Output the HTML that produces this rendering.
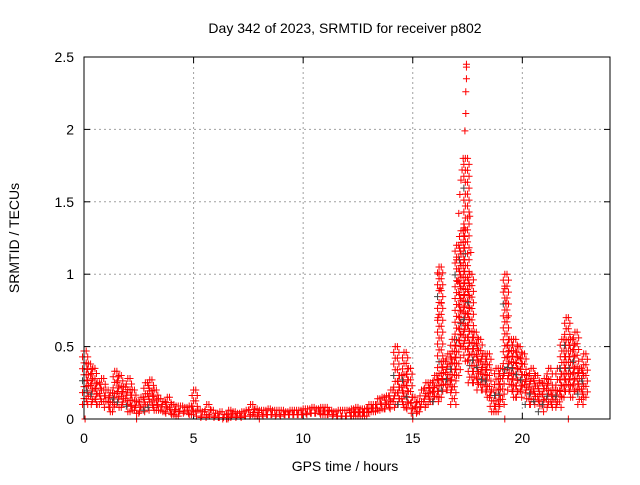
<!DOCTYPE html>
<html><head><meta charset="utf-8"><style>
body{margin:0;background:#fff}
svg text{font-family:"Liberation Sans",sans-serif;font-size:14px;fill:#000}
</style></head><body>
<svg id="chart" width="640" height="480" viewBox="0 0 640 480" xmlns="http://www.w3.org/2000/svg">
<rect width="640" height="480" fill="#fff"/>
<text x="345" y="33" text-anchor="middle">Day 342 of 2023, SRMTID for receiver p802</text>
<text transform="translate(19,238) rotate(-90)" text-anchor="middle">SRMTID / TECUs</text>
<text x="345" y="471" text-anchor="middle">GPS time / hours</text>
<g id="grid"></g>
<g id="axes"></g>
<g id="marks"></g>
<rect x="84" y="57" width="526" height="362" fill="none" stroke="#000" stroke-width="1"/>
</svg>
<script>
const xTicks=[0,5,10,15,20];
const yTicks=[0,0.5,1,1.5,2,2.5];
const yTickLabels=["0","0.5","1","1.5","2","2.5"];
const times=[0,0.2,0.4,0.6,0.8,1.0,1.2,1.4,1.6,1.8,2.0,2.2,2.4,2.6,2.8,3.0,3.2,3.4,3.6,3.8,4.0,4.2,4.4,4.6,4.8,5.0,5.2,5.4,5.6,5.8,6.0,6.2,6.4,6.6,6.8,7.0,7.2,7.4,7.6,7.8,8.0,8.2,8.4,8.6,8.8,9.0,9.2,9.4,9.6,9.8,10.0,10.2,10.4,10.6,10.8,11.0,11.2,11.4,11.6,11.8,12.0,12.2,12.4,12.6,12.8,13.0,13.2,13.4,13.6,13.8,14.0,14.2,14.4,14.6,14.8,15.0,15.2,15.4,15.6,15.8,16.0,16.2,16.4,16.6,16.8,17.0,17.2,17.4,17.6,17.8,18.0,18.2,18.4,18.6,18.8,19.0,19.2,19.4,19.6,19.8,20.0,20.2,20.4,20.6,20.8,21.0,21.2,21.4,21.6,21.8,22.0,22.2,22.4,22.6,22.8];
const hiValues=[0.47,0.38,0.35,0.25,0.28,0.2,0.18,0.33,0.3,0.22,0.28,0.2,0.12,0.15,0.25,0.27,0.2,0.14,0.12,0.15,0.1,0.09,0.09,0.08,0.09,0.2,0.06,0.05,0.1,0.06,0.04,0.05,0.03,0.06,0.05,0.04,0.05,0.06,0.1,0.07,0.06,0.06,0.07,0.06,0.06,0.06,0.05,0.06,0.06,0.06,0.07,0.07,0.08,0.07,0.08,0.08,0.06,0.05,0.06,0.06,0.06,0.07,0.08,0.07,0.07,0.1,0.1,0.14,0.15,0.16,0.2,0.5,0.3,0.46,0.35,0.15,0.12,0.2,0.25,0.25,0.3,1.05,0.4,0.45,0.55,1.2,1.3,1.8,1.0,0.6,0.55,0.45,0.45,0.2,0.35,0.35,1.0,0.55,0.55,0.5,0.45,0.3,0.35,0.3,0.25,0.28,0.35,0.2,0.35,0.55,0.7,0.55,0.6,0.35,0.45];
const loValues=[0.1,0.12,0.1,0.1,0.12,0.08,0.05,0.1,0.08,0.1,0.05,0.06,0.04,0.05,0.06,0.08,0.06,0.06,0.05,0.04,0.03,0.02,0.05,0.04,0.03,0.05,0.02,0.01,0.03,0.02,0.01,0.01,0.0,0.01,0.02,0.01,0.02,0.02,0.03,0.02,0.02,0.03,0.03,0.03,0.02,0.03,0.03,0.03,0.03,0.03,0.03,0.04,0.04,0.04,0.03,0.03,0.03,0.02,0.02,0.02,0.02,0.02,0.02,0.02,0.02,0.05,0.05,0.06,0.07,0.07,0.08,0.1,0.1,0.08,0.07,0.04,0.05,0.08,0.1,0.12,0.12,0.15,0.2,0.2,0.1,0.3,0.5,0.4,0.25,0.25,0.2,0.2,0.15,0.05,0.05,0.1,0.3,0.2,0.15,0.15,0.2,0.1,0.1,0.12,0.05,0.1,0.08,0.1,0.08,0.15,0.2,0.15,0.2,0.1,0.15];
const spikeTimes=[17.45,17.45,17.45,17.42,17.42,17.38,17.3,17.25,17.2,17.15,17.1,17.35,16.2,16.25,16.3,16.15,17.0,17.05,17.6,17.65,19.2,19.25,19.3,0.05,2.4,6.5,8.0,15.0,19.2,22.1];
const spikeValues=[2.45,2.43,2.35,2.26,2.11,1.99,1.8,1.72,1.65,1.55,1.42,1.32,1.0,0.9,0.8,0.7,1.1,0.95,1.4,1.15,0.9,0.8,0.7,0.0,0.0,0.0,0.0,0.0,0.0,0.0];

const L=84,R=610,T=57,B=419,XMAX=24,YMAX=2.5;
const xs=v=>L+v/XMAX*(R-L);
const ys=v=>B-v/YMAX*(B-T);
const NS="http://www.w3.org/2000/svg";
const grid=document.getElementById('grid'),axes=document.getElementById('axes'),marks=document.getElementById('marks');
function mk(tag,attrs,parent){const e=document.createElementNS(NS,tag);for(const k in attrs)e.setAttribute(k,attrs[k]);parent.appendChild(e);return e;}
xTicks.forEach(t=>{
  const x=xs(t);
  if(t>0){const g=mk('line',{x1:x,x2:x,y1:T,y2:B,stroke:'#a0a0a0','stroke-dasharray':'2,3'},grid);
  
  }
  mk('line',{x1:x,x2:x,y1:B,y2:B-6,stroke:'#000'},axes);
  mk('line',{x1:x,x2:x,y1:T,y2:T+6,stroke:'#000'},axes);
  const tx=mk('text',{x:x,y:B+24,'text-anchor':'middle'},axes);tx.textContent=t;
  
  
});
yTicks.forEach((t,i)=>{
  const y=ys(t);
  if(t>0&&t<YMAX){const g=mk('line',{x1:L,x2:R,y1:y,y2:y,stroke:'#a0a0a0','stroke-dasharray':'2,3'},grid);
  
  }
  mk('line',{x1:L,x2:L+6,y1:y,y2:y,stroke:'#000'},axes);
  mk('line',{x1:R,x2:R-6,y1:y,y2:y,stroke:'#000'},axes);
  const tx=mk('text',{x:L-10,y:y+5,'text-anchor':'end'},axes);tx.textContent=yTickLabels[i];
  
  
});
function plus(x,y,c){
  const p=mk('path',{d:`M${x-3.5},${y}h7M${x},${y-3.5}v7`,stroke:c,'stroke-width':1},marks);
  
  
}
times.forEach((t,i)=>{
  const yh=ys(hiValues[i]),yl=ys(loValues[i]);
  for(let k=0;k<2;k++){
    const x=xs(t)+k*2.2;
    const n=Math.max(1,Math.ceil((yl-yh)/6));
    for(let j=0;j<=n;j++){
      const off=(j%2)*(k?1.5:-1.5);
      plus(x+off,yh+(yl-yh)*j/n,(k==0&&j%11==5)?'#444':'#ff0000');
    }
  }
});
spikeTimes.forEach((t,i)=>plus(xs(t),ys(spikeValues[i]),'#ff0000'));
</script>
</body></html>
